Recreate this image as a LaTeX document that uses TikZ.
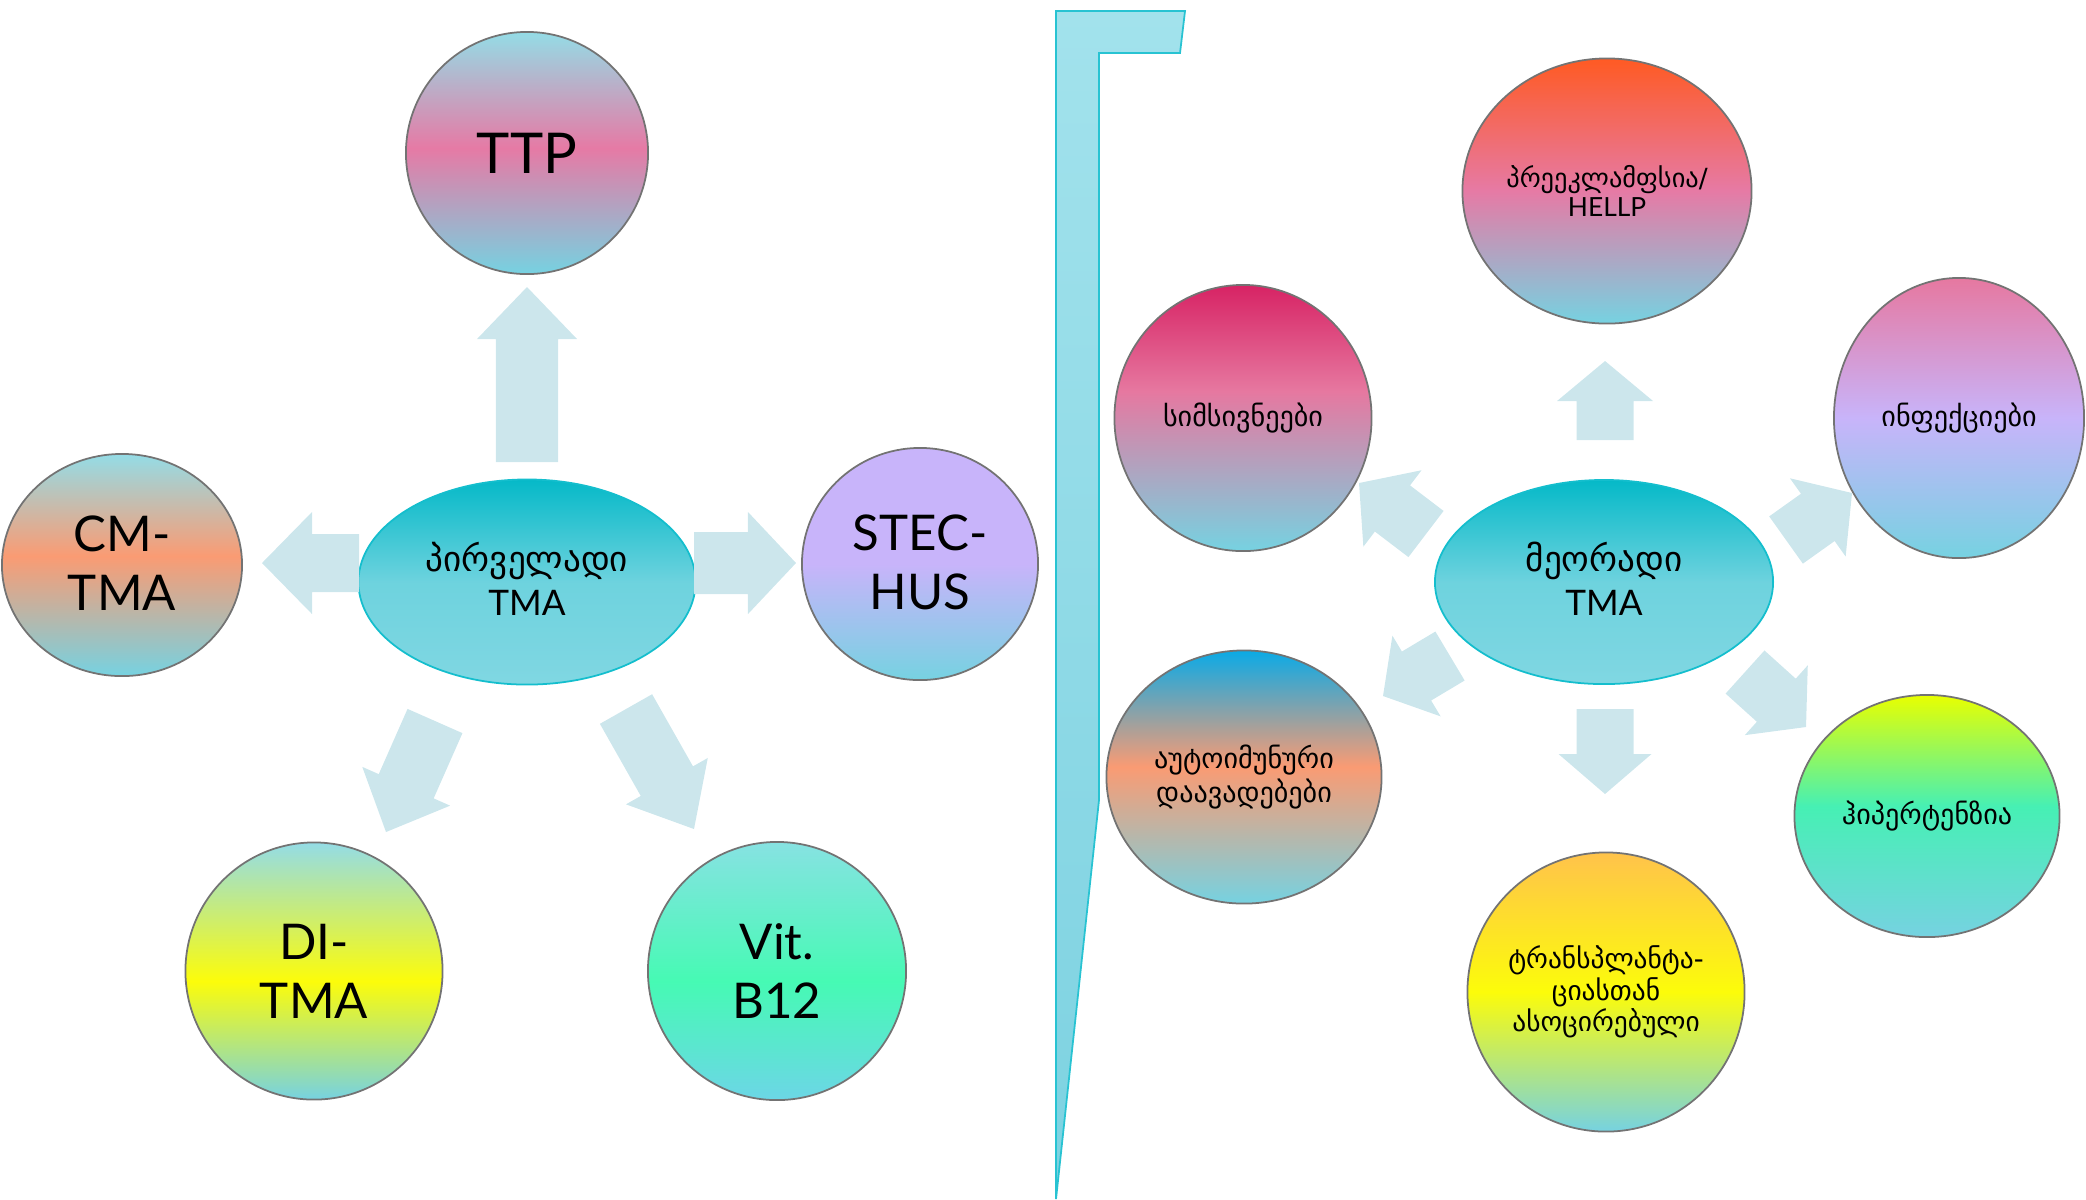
\documentclass[tikz,border=0pt]{standalone}
\usepackage{fontspec}
\setmainfont{Lato}
\newfontfamily\geo{DejaVu Sans}
\usetikzlibrary{shapes.geometric,calc}

\definecolor{cyb}{RGB}{118,210,225}
\definecolor{cyt}{RGB}{148,220,230}
\definecolor{pinkm}{RGB}{230,122,165}
\definecolor{salm}{RGB}{250,155,115}
\definecolor{lav}{RGB}{200,180,250}
\definecolor{yel}{RGB}{252,252,10}
\definecolor{grn}{RGB}{70,250,180}
\definecolor{grnb}{RGB}{108,214,230}
\definecolor{grnt}{RGB}{135,226,226}
\definecolor{tealt}{RGB}{5,185,200}
\definecolor{tealb}{RGB}{128,215,226}
\definecolor{orng}{RGB}{255,90,35}
\definecolor{crim}{RGB}{215,35,100}
\definecolor{pinkt}{RGB}{230,120,160}
\definecolor{bluet}{RGB}{10,170,230}
\definecolor{lime}{RGB}{232,255,0}
\definecolor{grn2}{RGB}{70,240,180}
\definecolor{amber}{RGB}{255,195,75}
\definecolor{brt}{RGB}{162,226,236}
\definecolor{brb}{RGB}{125,210,225}
\definecolor{brd}{RGB}{40,195,210}
\definecolor{arr}{RGB}{204,230,236}
\definecolor{cyanline}{RGB}{20,190,205}

\pgfdeclareverticalshading{shttp}{100bp}{color(0bp)=(cyb); color(25bp)=(cyb); color(51bp)=(pinkm); color(75bp)=(cyt); color(100bp)=(cyt)}
\pgfdeclareverticalshading{shcm}{100bp}{color(0bp)=(cyb); color(25bp)=(cyb); color(52bp)=(salm); color(75bp)=(cyt); color(100bp)=(cyt)}
\pgfdeclareverticalshading{shstec}{100bp}{color(0bp)=(cyb); color(25bp)=(cyb); color(50bp)=(lav); color(75bp)=(lav); color(100bp)=(lav)}
\pgfdeclareverticalshading{shdi}{100bp}{color(0bp)=(cyb); color(25bp)=(cyb); color(48bp)=(yel); color(75bp)=(cyt); color(100bp)=(cyt)}
\pgfdeclareverticalshading{shvit}{100bp}{color(0bp)=(grnb); color(25bp)=(grnb); color(48bp)=(grn); color(75bp)=(grnt); color(100bp)=(grnt)}
\pgfdeclareverticalshading{shtma}{100bp}{color(0bp)=(tealb); color(25bp)=(tealb); color(50bp)=(tealb!85!tealt); color(75bp)=(tealt); color(100bp)=(tealt)}
\pgfdeclareverticalshading{shpre}{100bp}{color(0bp)=(cyb); color(25bp)=(cyb); color(50bp)=(pinkm); color(75bp)=(orng); color(100bp)=(orng)}
\pgfdeclareverticalshading{shsim}{100bp}{color(0bp)=(cyb); color(25bp)=(cyb); color(55bp)=(pinkt); color(75bp)=(crim); color(100bp)=(crim)}
\pgfdeclareverticalshading{shinf}{100bp}{color(0bp)=(cyb); color(25bp)=(cyb); color(50bp)=(lav); color(75bp)=(pinkt); color(100bp)=(pinkt)}
\pgfdeclareverticalshading{shauto}{100bp}{color(0bp)=(cyb); color(25bp)=(cyb); color(52bp)=(salm); color(75bp)=(bluet); color(100bp)=(bluet)}
\pgfdeclareverticalshading{shhyp}{100bp}{color(0bp)=(cyb); color(25bp)=(cyb); color(52bp)=(grn2); color(75bp)=(lime); color(100bp)=(lime)}
\pgfdeclareverticalshading{shtra}{100bp}{color(0bp)=(cyb); color(25bp)=(cyb); color(50bp)=(yel); color(75bp)=(amber); color(100bp)=(amber)}
\pgfdeclareverticalshading{shbr}{100bp}{color(0bp)=(brb); color(25bp)=(brb); color(75bp)=(brt); color(100bp)=(brt)}

\newcommand{\blockarrow}[6]{%
  \coordinate (#1h) at ($(#3)!#6!(#2)$);
  \fill[arrowfill] ($(#2)!#4!90:(#3)$) -- ($(#1h)!#4!90:(#3)$) -- ($(#1h)!#5!90:(#3)$) -- (#3) -- ($(#1h)!#5!-90:(#3)$) -- ($(#1h)!#4!-90:(#3)$) -- ($(#2)!#4!-90:(#3)$) -- cycle;}

\begin{document}
\begin{tikzpicture}[x=0.01cm,y=-0.01cm,
  bub/.style={ellipse, draw=black!55, line width=0.5pt, inner sep=0pt},
  tma/.style={ellipse, draw=cyanline, line width=0.5pt, inner sep=0pt, shading=shtma},
  txt/.style={align=center, inner sep=0pt, text=black},
  big/.style={font=\fontsize{14}{16.8}\selectfont},
  geosm/.style={font=\geo\fontsize{8}{8.4}\selectfont},
  arrowfill/.style={fill=arr}]
\useasboundingbox (0,0) rectangle (2086,1199);

% divider bracket
\draw[shading=shbr, draw=brd, line width=0.5pt] (1056,11) -- (1185,11) -- (1180,53) -- (1099,53) -- (1099,800) -- (1056,1199) -- cycle;

% ---------- left: primary TMA ----------
\node[bub, shading=shttp, minimum width=2.42cm, minimum height=2.42cm] (ttp) at (527,153) {};
\node[tma, minimum width=3.37cm, minimum height=2.05cm] (pri) at (527,582) {};
\node[bub, shading=shcm, minimum width=2.40cm, minimum height=2.22cm] (cm) at (122,565) {};
\node[bub, shading=shstec, minimum width=2.36cm, minimum height=2.32cm] (stec) at (920,564) {};
\node[bub, shading=shdi, minimum width=2.57cm, minimum height=2.57cm] (di) at (314,971) {};
\node[bub, shading=shvit, minimum width=2.58cm, minimum height=2.58cm] (vit) at (777,971) {};

\node[txt, font=\fontsize{16}{19}\selectfont] (ttpt) at (ttp) {TTP};
\node[txt, font=\fontsize{10}{12.5}\selectfont] (prit) at ($(pri)+(0,-3)$) {{\geo პირველადი}\\TMA};
\node[txt, big] (cmt) at ($(cm)+(0,-2)$) {CM-\\TMA};
\node[txt, big] (stect) at ($(stec)+(0,-2)$) {STEC-\\HUS};
\node[txt, big] (dit) at (di) {DI-\\TMA};
\node[txt, big] (vitt) at (vit) {Vit.\\B12};

\coordinate (a1s) at (527,462); \coordinate (a1e) at (527,287);
\coordinate (a2s) at (359,563); \coordinate (a2e) at (262,563);
\coordinate (a3s) at (694,563); \coordinate (a3e) at (796,563);
\coordinate (a4s) at (435,721); \coordinate (a4e) at (386,832);
\coordinate (a5s) at (626,709); \coordinate (a5e) at (694,829);
\blockarrow{a1}{a1s}{a1e}{0.31cm}{0.50cm}{0.52cm}
\blockarrow{a2}{a2s}{a2e}{0.29cm}{0.51cm}{0.50cm}
\blockarrow{a3}{a3s}{a3e}{0.31cm}{0.51cm}{0.48cm}
\blockarrow{a4}{a4s}{a4e}{0.30cm}{0.48cm}{0.50cm}
\blockarrow{a5}{a5s}{a5e}{0.30cm}{0.47cm}{0.55cm}

% ---------- right: secondary TMA ----------
\node[bub, shading=shpre, minimum width=2.89cm, minimum height=2.65cm] (pre) at (1607,191) {};
\node[bub, shading=shsim, minimum width=2.57cm, minimum height=2.66cm] (sim) at (1243,418) {};
\node[bub, shading=shinf, minimum width=2.50cm, minimum height=2.80cm] (inf) at (1959,418) {};
\node[tma, minimum width=3.38cm, minimum height=2.04cm] (sec) at (1604,582) {};
\node[bub, shading=shauto, minimum width=2.75cm, minimum height=2.53cm] (auto) at (1244,777) {};
\node[bub, shading=shhyp, minimum width=2.65cm, minimum height=2.42cm] (hyp) at (1927,816) {};
\node[bub, shading=shtra, minimum width=2.77cm, minimum height=2.79cm] (tra) at (1606,992) {};

\node[txt, font=\fontsize{7.5}{8}\selectfont] (pret) at ($(pre)+(0,0)$) {{\geo პრეეკლამფსია/}\\HELLP};
\node[txt, geosm] (simt) at (sim) {სიმსივნეები};
\node[txt, geosm] (inft) at (inf) {ინფექციები};
\node[txt, font=\fontsize{10}{12.5}\selectfont] (sect) at ($(sec)+(0,-3)$) {{\geo მეორადი}\\TMA};
\node[txt, geosm] (autot) at (auto) {აუტოიმუნური\\დაავადებები};
\node[txt, geosm] (hypt) at (hyp) {ჰიპერტენზია};
\node[txt, font=\geo\fontsize{7.8}{9}\selectfont] (trat) at (tra) {ტრანსპლანტა-\\ციასთან\\ასოცირებული};

\coordinate (b1s) at (1605,440); \coordinate (b1e) at (1605,361);
\coordinate (b2s) at (1426,534); \coordinate (b2e) at (1359,483);
\coordinate (b3s) at (1786,540); \coordinate (b3e) at (1852,493);
\coordinate (b4s) at (1450,656); \coordinate (b4e) at (1383,696);
\coordinate (b5s) at (1605,709); \coordinate (b5e) at (1605,794);
\coordinate (b6s) at (1745,672); \coordinate (b6e) at (1806,727);
\blockarrow{b1}{b1s}{b1e}{0.285cm}{0.48cm}{0.40cm}
\blockarrow{b2}{b2s}{b2e}{0.29cm}{0.48cm}{0.42cm}
\blockarrow{b3}{b3s}{b3e}{0.29cm}{0.48cm}{0.42cm}
\blockarrow{b4}{b4s}{b4e}{0.285cm}{0.47cm}{0.39cm}
\blockarrow{b5}{b5s}{b5e}{0.285cm}{0.465cm}{0.40cm}
\blockarrow{b6}{b6s}{b6e}{0.29cm}{0.47cm}{0.40cm}
\end{tikzpicture}
\end{document}
